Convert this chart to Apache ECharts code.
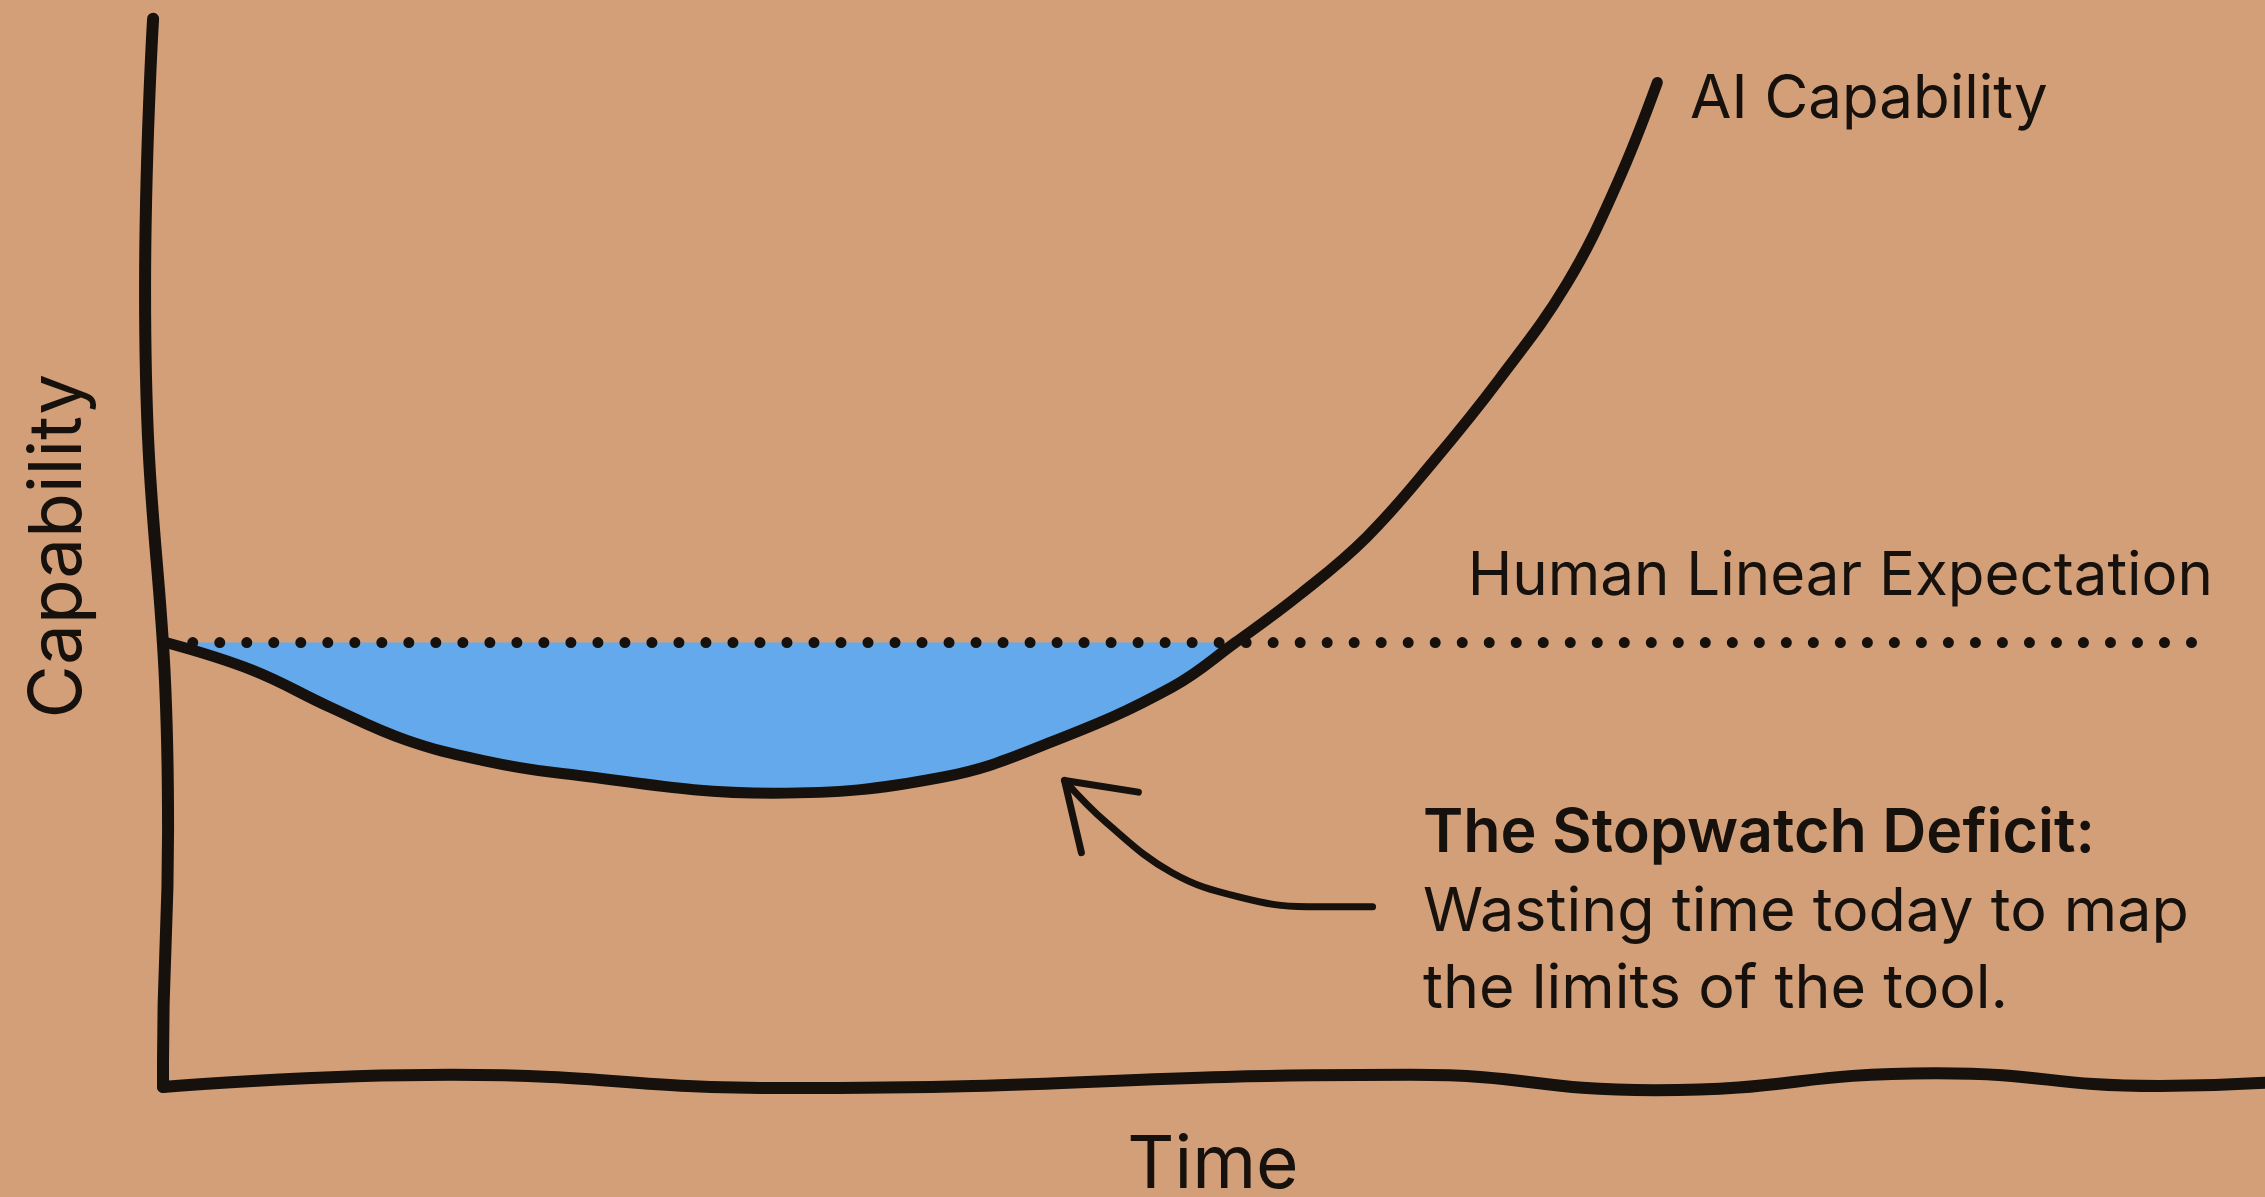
<!DOCTYPE html>
<html>
<head>
<meta charset="utf-8">
<script src="https://cdn.jsdelivr.net/npm/echarts@6/dist/echarts.min.js"></script>
<style>
  html, body { margin: 0; padding: 0; background: #d29f79; }
  #main { width: 2265px; height: 1197px; }
</style>
</head>
<body>
<div id="main"></div>
<script>
// time runs 0..100 left to right, capability 0..100 bottom to top
var aiCapability = [
  [0.5, 41.5], [4.6, 38.9], [8.3, 35.4], [11.9, 32.3], [15.5, 30.4],
  [19.1, 29.2], [29.3, 27.3], [37.3, 28.8], [42.7, 32.3], [48.2, 37.3],
  [51.2, 41.5], [54.3, 46.1], [57.4, 51.4], [60.6, 58.6], [63.7, 66.3],
  [66.9, 75.3], [69.3, 84.8], [71.2, 94.3]
];
var expectationLevel = 41.5;
var expectationSpan = [0.5, 97];
// the gap: AI curve while it sits below the expectation line
var deficit = aiCapability.slice(0, 11);

// hand drawn axes (slightly wobbly)
var yAxisSketch = [[-0.1, 100.3], [-0.48, 74.7], [0.61, 23.8], [0.37, 2], [0.37, -0.4]];
var xAxisSketch = [
  [0.37, -0.4], [14.0, 0.75], [30, -0.5], [59.5, 0.75], [71.1, -0.7],
  [84.4, 0.9], [95, -0.3], [100, 0]
];
// arrow pointing from the note back at the gap
var arrowShaft = [[57.7, 16.6], [54.6, 16.6], [51.4, 17.5], [48.2, 19.8], [45.1, 24.5], [43.1, 28.5]];
var arrowHead = [[46.6, 27.4], [43.1, 28.5], [43.9, 21.7]];

var ink = '#16110d';
var font = 'Inter, "Noto Sans", sans-serif';

var chart = echarts.init(document.getElementById('main'), null, { renderer: 'canvas' });

function sketch(name, data, width, smooth, monotone) {
  return {
    name: name,
    type: 'line',
    data: data,
    showSymbol: false,
    symbol: 'none',
    smooth: smooth,
    smoothMonotone: monotone,
    clip: false,
    silent: true,
    lineStyle: { color: ink, width: width, cap: 'round', join: 'round' },
    z: 5
  };
}

var option = {
  backgroundColor: '#d29f79',
  animation: false,
  // a little room below 0 / left of 0 so the wobbly axes are not clipped
  grid: { left: 113, right: 0, top: 22, bottom: 93 },
  xAxis: { type: 'value', min: -2, max: 100, show: false },
  yAxis: { type: 'value', min: -2, max: 100, show: false },
  series: [
    {
      name: 'Deficit',
      type: 'line',
      data: deficit,
      symbol: 'none',
      smooth: 0.4,
      silent: true,
      lineStyle: { width: 0 },
      areaStyle: { color: '#63a9ec', opacity: 1, origin: expectationLevel },
      z: 2
    },
    {
      name: 'Human Linear Expectation',
      type: 'line',
      data: expectationSpan.map(function (x) { return [x, expectationLevel]; }),
      symbol: 'none',
      silent: true,
      lineStyle: { color: ink, width: 11, type: [0.01, 27], cap: 'round' },
      z: 3
    },
    sketch('AI Capability', aiCapability, 11, 0.4),
    sketch('y axis', yAxisSketch, 12, 0.5, 'y'),
    sketch('x axis', xAxisSketch, 12, 0.5, 'x'),
    sketch('arrow', arrowShaft, 7, 0.4),
    sketch('arrow head', arrowHead, 7, false)
  ],
  graphic: [
    {
      type: 'text', x: 1690, y: 100,
      style: { text: 'AI Capability', fill: ink, font: '400 60px ' + font, align: 'left', verticalAlign: 'middle' }
    },
    {
      type: 'text', x: 2213, y: 577,
      style: { text: 'Human Linear Expectation', fill: ink, font: '400 60px ' + font, align: 'right', verticalAlign: 'middle' }
    },
    {
      type: 'text', x: 1423, y: 834,
      style: { text: 'The Stopwatch Deficit:', fill: ink, font: '600 61px ' + font, align: 'left', verticalAlign: 'middle' }
    },
    {
      type: 'text', x: 1423, y: 913,
      style: { text: 'Wasting time today to map', fill: ink, font: '400 61px ' + font, align: 'left', verticalAlign: 'middle' }
    },
    {
      type: 'text', x: 1423, y: 990,
      style: { text: 'the limits of the tool.', fill: ink, font: '400 61px ' + font, align: 'left', verticalAlign: 'middle' }
    },
    {
      type: 'text', x: 1213, y: 1166,
      style: { text: 'Time', fill: ink, font: '400 73px ' + font, align: 'center', verticalAlign: 'middle' }
    },
    {
      type: 'text', x: 59, y: 546, rotation: Math.PI / 2,
      style: { text: 'Capability', fill: ink, font: '400 73px ' + font, align: 'center', verticalAlign: 'middle' }
    }
  ]
};

chart.setOption(option);
</script>
</body>
</html>
